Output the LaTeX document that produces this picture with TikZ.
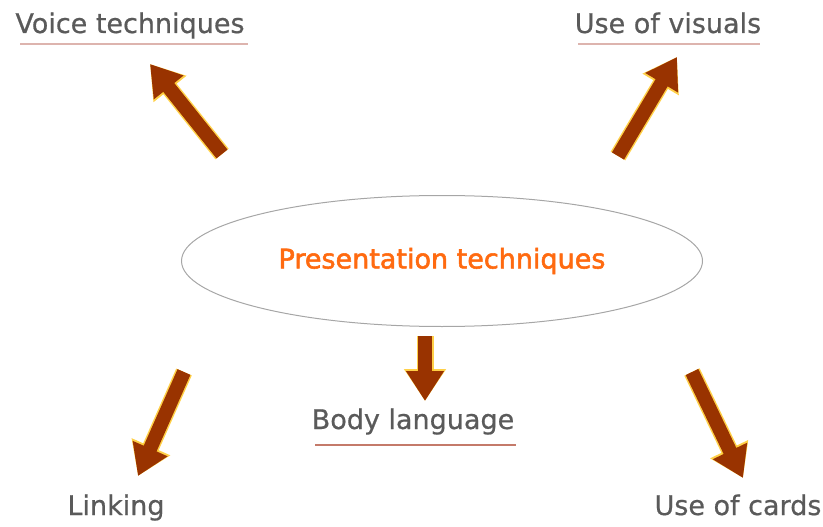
\documentclass[tikz,border=0pt]{standalone}
\usepackage{fontspec}
\setmainfont[FakeBold=0.6]{DejaVu Sans}
\newfontfamily\heavyfont[FakeBold=2]{DejaVu Sans}
\usetikzlibrary{shapes.geometric,arrows.meta}
\definecolor{txtgray}{HTML}{5A5A5A}
\definecolor{arrbrown}{HTML}{993300}
\definecolor{arrglow}{HTML}{FFC828}
\definecolor{ulpink}{HTML}{DDB4AE}
\definecolor{ulred}{HTML}{C47A6A}
\definecolor{orangetxt}{HTML}{FF6A10}
\tikzset{
  lbl/.style={text=txtgray, font=\fontsize{27}{29}\selectfont, inner sep=0pt, anchor=base},
  ulline/.style={line width=2.2pt},
  bigarrow/.style={line width=14pt, arrbrown,
     -{Triangle[length=30pt,width=36pt]}},
  glowarrow/.style={line width=17pt, arrglow, opacity=0.85,
     -{Triangle[length=32pt,width=40pt]}},
}
\begin{document}
\begin{tikzpicture}[x=1pt,y=-1pt]
\useasboundingbox (0,0) rectangle (823,527);
% central ellipse
\node[ellipse, draw=gray!70, line width=1pt, minimum width=521pt, minimum height=131pt, inner sep=0pt,
      text=orangetxt, font=\fontsize{27}{29}\selectfont\heavyfont] (center) at (442,261) {Presentation techniques};
% labels
\node[lbl] (voice) at (130,33) {Voice techniques};
\node[lbl] (visuals) at (668,33) {Use of visuals};
\node[lbl] (body) at (413,429) {Body language};
\node[lbl] (linking) at (116,515) {Linking};
\node[lbl] (cards) at (738,515) {Use of cards};
% underlines
\draw[ulline, ulpink] (20,44) -- (248,44);
\draw[ulline, ulpink] (578,44) -- (760,44);
\draw[ulline, ulred] (315,445) -- (516,445);
% arrow end points
\coordinate (v1) at (222,154); \coordinate (v2) at (150,64);
\coordinate (u1) at (618,156); \coordinate (u2) at (677,57);
\coordinate (b1) at (425,336); \coordinate (b2) at (425,401);
\coordinate (l1) at (184,372); \coordinate (l2) at (138,476);
\coordinate (c1) at (692,372); \coordinate (c2) at (743,478);
\foreach \a/\b in {v1/v2,u1/u2,b1/b2,l1/l2,c1/c2}{
  \draw[glowarrow] (\a) -- (\b);
  \draw[bigarrow] (\a) -- (\b);
}
\end{tikzpicture}
\end{document}
